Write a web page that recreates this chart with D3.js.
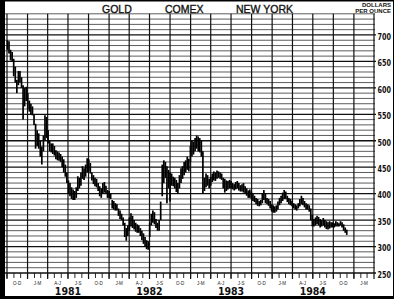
<!DOCTYPE html>
<html>
<head>
<meta charset="utf-8">
<script src="https://cdn.jsdelivr.net/npm/d3@7"></script>
<style>
  body { margin: 0; background: #fff; }
  svg { display: block; }
  .title { font-family: "Liberation Sans", Arial, sans-serif; font-size: 10.5px; fill: #111; stroke: #111; stroke-width: 0.35px; }
  .units { font-family: "Liberation Sans", Arial, sans-serif; font-size: 6px; font-weight: bold; fill: #111; }
  .price { font-family: "DejaVu Sans Condensed", "Liberation Sans Narrow", "Liberation Sans", sans-serif; font-size: 9.5px; font-weight: bold; fill: #111; }
  .year { font-family: "DejaVu Sans Condensed", "Liberation Sans Narrow", "Liberation Sans", sans-serif; font-size: 10.5px; font-weight: bold; fill: #111; }
  .qtr { font-family: "Liberation Sans", Arial, sans-serif; font-size: 4.5px; fill: #222; }
</style>
</head>
<body>
<script>
(function () {

    //weekly bars, first week ending Oct 3 1980
    var firstWeek = "1980-10-03";

    //weekly highs, dollars per ounce
    var highs = [
        690, 688, 672, 668, 655, 640, 615, 632, 632, 620,
        605, 600, 602, 590, 576, 570, 565, 550, 532, 520,
        514, 500, 489, 510, 548, 545, 520, 500, 495, 495,
        490, 482, 480, 478, 475, 470, 465, 455, 440, 425,
        420, 412, 408, 405, 412, 433, 430, 440, 452, 448,
        455, 467, 465, 458, 440, 435, 430, 428, 420, 414,
        410, 420, 422, 415, 407, 405, 400, 388, 386, 382,
        380, 372, 368, 362, 355, 345, 335, 340, 355, 363,
        358, 350, 345, 342, 340, 335, 330, 325, 318, 312,
        310, 345, 362, 368, 365, 352, 345, 350, 385, 455,
        463, 460, 452, 445, 440, 438, 432, 430, 426, 420,
        435, 448, 452, 460, 463, 470, 466, 490, 500, 498,
        505, 510, 508, 505, 500, 480, 430, 438, 435, 428,
        432, 438, 442, 440, 444, 442, 440, 438, 430, 428,
        425, 424, 426, 424, 420, 418, 422, 424, 420, 416,
        418, 420, 414, 410, 406, 408, 404, 400, 396, 392,
        390, 386, 388, 400, 407, 400, 392, 390, 386, 380,
        378, 376, 378, 385, 392, 396, 402, 407, 404, 396,
        392, 390, 386, 382, 380, 378, 382, 390, 396, 392,
        386, 382, 380, 378, 372, 360, 352, 355, 358, 356,
        352, 350, 354, 350, 348, 346, 348, 346, 346, 344,
        348, 346, 344, 348, 346, 342, 336, 332
    ];

    //weekly lows, dollars per ounce
    var lows = [
        672, 665, 652, 650, 622, 610, 590, 605, 610, 600,
        540, 565, 575, 560, 555, 550, 548, 530, 485, 490,
        485, 470, 455, 480, 500, 505, 495, 480, 478, 475,
        472, 465, 463, 462, 460, 450, 440, 432, 420, 400,
        395, 390, 388, 388, 392, 405, 410, 415, 428, 426,
        432, 440, 442, 438, 425, 418, 414, 412, 405, 395,
        392, 400, 402, 400, 392, 392, 390, 372, 370, 368,
        368, 358, 352, 350, 340, 318, 311, 320, 330, 338,
        335, 332, 328, 326, 326, 320, 312, 305, 300, 295,
        294, 318, 340, 345, 342, 335, 330, 330, 350, 395,
        420, 430, 382, 410, 385, 415, 414, 410, 403, 400,
        410, 420, 428, 435, 440, 445, 442, 460, 470, 474,
        480, 485, 480, 478, 470, 400, 405, 412, 415, 410,
        415, 422, 425, 424, 428, 430, 428, 426, 410, 402,
        405, 408, 410, 410, 408, 406, 408, 410, 406, 404,
        404, 402, 400, 396, 392, 392, 390, 386, 384, 380,
        377, 376, 378, 382, 388, 382, 380, 377, 372, 366,
        364, 364, 366, 370, 378, 382, 386, 390, 390, 384,
        380, 378, 376, 372, 370, 368, 372, 376, 380, 378,
        374, 370, 370, 366, 350, 338, 338, 340, 342, 340,
        336, 338, 340, 336, 333, 332, 334, 336, 336, 336,
        338, 338, 338, 340, 336, 330, 326, 322
    ];

    //price scale labels
    var priceTicks = [250, 300, 350, 400, 450, 500, 550, 600, 650, 700];
    //quarter labels along the time axis
    var quarterNames = ["J-M", "A-J", "J-S", "O-D"];
    var yearLabels = ["1981", "1982", "1983", "1984"];
    var titleWords = ["GOLD", "COMEX", "NEW YORK"];

    var width = 394,
        height = 299;

    var svg = d3.select("body")
        .append("svg")
        .attr("width", width)
        .attr("height", height);

    //time and price scales
    var x = d3.scaleTime()
        .domain([new Date(1980, 9, 1), new Date(1985, 3, 1)])
        .range([7, 374]);

    var y = d3.scaleLinear()
        .domain([250, 740])
        .range([273, 13.8]);

    var start = d3.timeParse("%Y-%m-%d")(firstWeek);
    var bars = highs.map(function (h, i) {
        return { date: d3.timeWeek.offset(start, i), high: h, low: lows[i] };
    });

    //light grid every 10 dollars
    svg.selectAll(".minor")
        .data(d3.range(260, 741, 10).filter(function (v) { return v % 50 != 0; }))
        .enter()
        .append("line")
        .attr("class", "minor")
        .attr("x1", 5).attr("x2", 375)
        .attr("y1", function (d) { return y(d); })
        .attr("y2", function (d) { return y(d); })
        .attr("stroke", "#333")
        .attr("stroke-width", 0.8);

    //heavy grid every 50 dollars
    svg.selectAll(".major")
        .data(priceTicks)
        .enter()
        .append("line")
        .attr("class", "major")
        .attr("x1", 5).attr("x2", 376)
        .attr("y1", function (d) { return y(d); })
        .attr("y2", function (d) { return y(d); })
        .attr("stroke", "#111")
        .attr("stroke-width", 1.3);

    //quarter lines
    var quarters = d3.timeMonth.every(3).range(new Date(1980, 9, 1), new Date(1985, 3, 2));
    svg.selectAll(".qline")
        .data(quarters)
        .enter()
        .append("line")
        .attr("class", "qline")
        .attr("x1", function (d) { return x(d); })
        .attr("x2", function (d) { return x(d); })
        .attr("y1", y(740))
        .attr("y2", 279)
        .attr("stroke", "#111")
        .attr("stroke-width", 1.2);

    //monthly ticks under the axis
    svg.selectAll(".mtick")
        .data(d3.timeMonth.range(new Date(1980, 9, 1), new Date(1985, 3, 1)))
        .enter()
        .append("line")
        .attr("class", "mtick")
        .attr("x1", function (d) { return x(d); })
        .attr("x2", function (d) { return x(d); })
        .attr("y1", 273)
        .attr("y2", 278)
        .attr("stroke", "#111")
        .attr("stroke-width", 0.9);

    //high-low bars
    svg.selectAll(".bar")
        .data(bars)
        .enter()
        .append("line")
        .attr("class", "bar")
        .attr("x1", function (d) { return x(d.date); })
        .attr("x2", function (d) { return x(d.date); })
        .attr("y1", function (d) { return y(d.high); })
        .attr("y2", function (d) { return y(d.low); })
        .attr("stroke", "#000")
        .attr("stroke-width", 1.7);

    //price labels on the right, squeezed like the printed ones
    svg.selectAll(".price")
        .data(priceTicks)
        .enter()
        .append("text")
        .attr("class", "price")
        .attr("x", 377.5)
        .attr("y", function (d) { return y(d) + 4.8; })
        .attr("textLength", 13.5)
        .attr("lengthAdjust", "spacingAndGlyphs")
        .text(function (d) { return d; });

    svg.append("text").attr("class", "units")
        .attr("x", 391).attr("y", 7).attr("text-anchor", "end").text("DOLLARS");
    svg.append("text").attr("class", "units")
        .attr("x", 391).attr("y", 13).attr("text-anchor", "end").text("PER OUNCE");

    //quarter labels
    svg.selectAll(".qtr")
        .data(quarters.slice(0, -1))
        .enter()
        .append("text")
        .attr("class", "qtr")
        .attr("text-anchor", "middle")
        .attr("x", function (d) { return x(d3.timeDay.offset(d, 45)); })
        .attr("y", 285)
        .text(function (d) { return quarterNames[Math.floor(d.getMonth() / 3)]; });

    //year labels
    svg.selectAll(".year")
        .data(yearLabels)
        .enter()
        .append("text")
        .attr("class", "year")
        .attr("text-anchor", "middle")
        .attr("x", function (d) { return x(new Date(+d, 6, 1)); })
        .attr("y", 295)
        .text(function (d) { return d; });

    //title
    var titleX = [102, 165, 236];
    svg.selectAll(".title")
        .data(titleWords)
        .enter()
        .append("text")
        .attr("class", "title")
        .attr("x", function (d, i) { return titleX[i]; })
        .attr("y", 12.5)
        .text(function (d) { return d; });

    //scan frame
    svg.append("line").attr("x1", 2.5).attr("x2", 2.5).attr("y1", 0).attr("y2", height)
        .attr("stroke", "#000").attr("stroke-width", 5);
    svg.append("line").attr("x1", 0).attr("x2", width).attr("y1", 0.75).attr("y2", 0.75)
        .attr("stroke", "#000").attr("stroke-width", 1.5);
    svg.append("line").attr("x1", 0).attr("x2", width).attr("y1", 297.5).attr("y2", 297.5)
        .attr("stroke", "#000").attr("stroke-width", 3);
    svg.append("line").attr("x1", 393.5).attr("x2", 393.5).attr("y1", 0).attr("y2", height)
        .attr("stroke", "#000").attr("stroke-width", 1);

})();
</script>
</body>
</html>
